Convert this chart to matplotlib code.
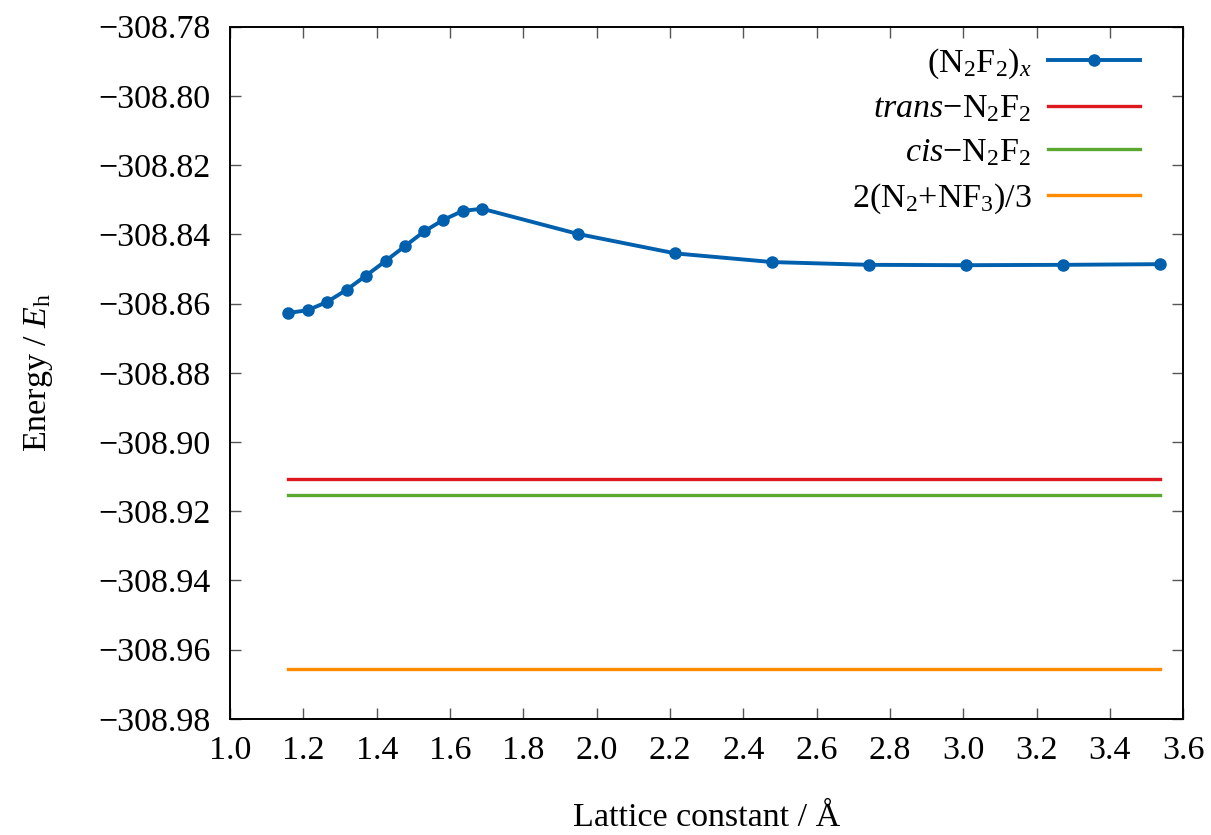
import matplotlib
matplotlib.use("Agg")
import matplotlib.pyplot as plt
from matplotlib.ticker import FuncFormatter, FormatStrFormatter, MultipleLocator

plt.rcParams['font.family'] = ['Liberation Serif', 'DejaVu Serif']
plt.rcParams['mathtext.fontset'] = 'custom'
plt.rcParams['mathtext.rm'] = 'Liberation Serif'
plt.rcParams['mathtext.it'] = 'Liberation Serif:italic'
plt.rcParams['mathtext.bf'] = 'Liberation Serif:bold'

# Data
lattice = [1.159, 1.212, 1.265, 1.318, 1.371, 1.424, 1.477, 1.530, 1.582, 1.635, 1.688,
           1.950, 2.215, 2.479, 2.744, 3.008, 3.273, 3.538]
energy_chain = [-308.8627, -308.8619, -308.8595, -308.8560, -308.8519, -308.8477,
                -308.8434, -308.8391, -308.8358, -308.8332, -308.8326,
                -308.8399, -308.8455, -308.8480, -308.8488, -308.8489, -308.8488, -308.8486]
e_trans = -308.9107
e_cis = -308.9153
e_dec = -308.9655

labels = [r'(N$_2$F$_2$)$_x$', r'$\mathit{trans}$−N$_2$F$_2$',
          r'$\mathit{cis}$−N$_2$F$_2$', r'2(N$_2$+NF$_3$)/3']
colors = ['#0060ad', '#dd181f', '#5aa830', '#ff8c00']

fs = 24.5
fig = plt.figure(figsize=(12.11, 8.35), dpi=100)
ax = fig.add_axes([0.19, 0.139, 0.787, 0.829])

ax.plot(lattice, energy_chain, '-o', color=colors[0], lw=2.8, ms=8, label=labels[0])
xs = [lattice[0], lattice[-1]]
ax.plot(xs, [e_trans, e_trans], '-', color=colors[1], lw=2.4, label=labels[1])
ax.plot(xs, [e_cis, e_cis], '-', color=colors[2], lw=2.4, label=labels[2])
ax.plot(xs, [e_dec, e_dec], '-', color=colors[3], lw=2.4, label=labels[3])

ax.set_xlim(1.0, 3.6)
ax.set_ylim(-308.98, -308.78)
ax.xaxis.set_major_locator(MultipleLocator(0.2))
ax.yaxis.set_major_locator(MultipleLocator(0.02))
ax.xaxis.set_major_formatter(FormatStrFormatter('%.1f'))
ax.yaxis.set_major_formatter(FuncFormatter(lambda v, p: ('%.2f' % v).replace('-', '\u2212')))
ax.tick_params(direction='in', length=8, width=1.0, color='#555555',
               top=True, right=True, labelsize=fs)
ax.tick_params(axis='y', pad=14)
ax.tick_params(axis='x', pad=12)
for s in ax.spines.values():
    s.set_linewidth(1.4)

ax.set_xlabel('Lattice constant / Å', fontsize=fs, labelpad=26)
ax.set_ylabel(r'Energy / $E_\mathrm{h}$', fontsize=fs, labelpad=31)

leg = ax.legend(loc='upper right', frameon=False, markerfirst=False, fontsize=fs,
                handlelength=2.7, handletextpad=0.5, labelspacing=0.38,
                borderaxespad=0.3, bbox_to_anchor=(0.98, 1.006))

fig.savefig('out.png', dpi=100)
